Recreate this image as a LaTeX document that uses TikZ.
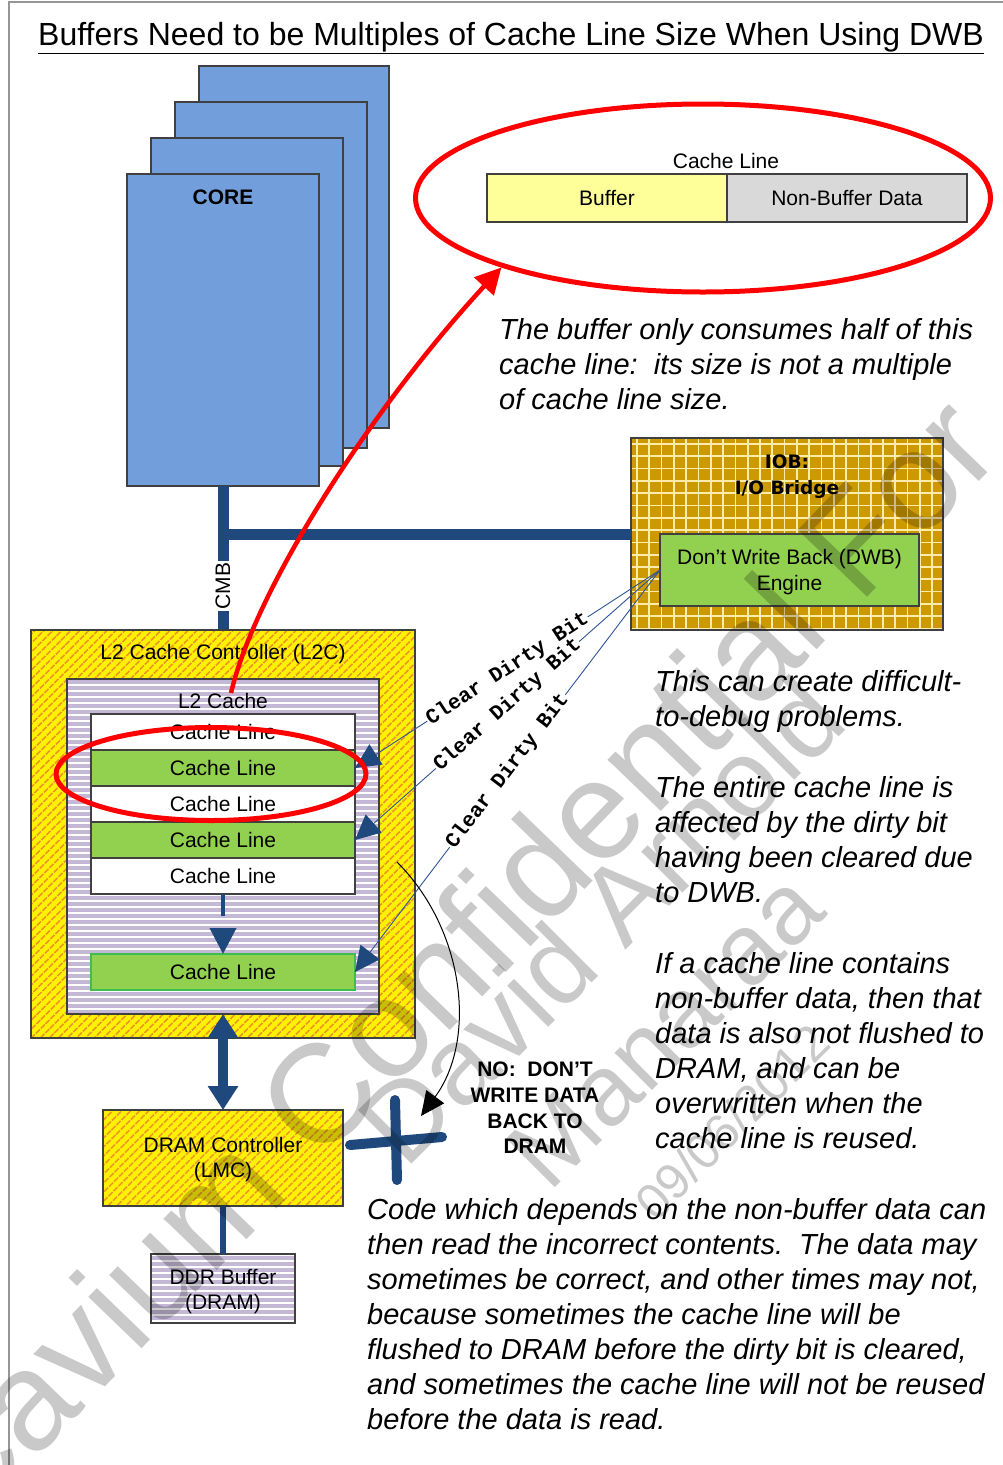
\documentclass[tikz,border=0pt]{standalone}
\usepackage{fontspec}
\setmainfont{Liberation Sans}
\newfontfamily\monob{Liberation Mono}
\newfontfamily\iobf{DejaVu Sans}
\usetikzlibrary{arrows.meta,patterns.meta,shapes.geometric}
\definecolor{coreblue}{RGB}{114,159,219}
\definecolor{busblue}{RGB}{31,73,125}
\definecolor{thinblue}{RGB}{47,85,151}
\definecolor{hatchor}{RGB}{236,150,40}
\definecolor{lav}{RGB}{196,184,214}
\definecolor{clgreen}{RGB}{146,208,80}
\definecolor{iobgold}{RGB}{204,153,0}
\definecolor{gridc}{RGB}{255,236,170}
\definecolor{bufyel}{RGB}{255,255,153}
\definecolor{nbgray}{RGB}{217,217,217}
\definecolor{edge}{RGB}{64,64,64}
\definecolor{framegray}{RGB}{150,150,150}
\tikzset{
  box/.style={draw=edge, line width=1.2pt, inner sep=0pt, outer sep=0pt, font=\fontsize{21}{25}\selectfont},
  corebox/.style={box, fill=coreblue},
  hatch/.style={box, preaction={fill=yellow}, pattern={Lines[angle=45,distance=6.4pt,line width=2pt]}, pattern color=hatchor},
  stripe/.style={box, preaction={fill=lav}, pattern={Lines[angle=0,distance=6pt,line width=2.4pt]}, pattern color=white},
  clwhite/.style={box, fill=white, minimum width=264pt, minimum height=36pt},
  clgr/.style={box, fill=clgreen, minimum width=264pt, minimum height=36pt},
  bus/.style={draw=busblue, line width=11pt},
  txt/.style={font=\fontsize{21}{25}\selectfont, inner sep=0pt, align=center},
  body/.style={font=\fontsize{29}{35}\selectfont\itshape, inner sep=0pt, align=left, anchor=north west},
  cdb/.style={font=\monob\bfseries\fontsize{21}{24}\selectfont, fill=white, inner sep=1pt, sloped, midway},
  cdbline/.style={draw=thinblue, line width=0.9pt, -{Triangle[length=25pt,width=24pt,color=busblue]}},
  redpen/.style={draw=red, line width=5pt},
  wm/.style={text=black, text opacity=0.21, rotate=45, inner sep=0pt},
}
\begin{document}
\begin{tikzpicture}[x=1pt,y=-1pt]
\useasboundingbox (0,0) rectangle (1003,1465);
\fill[white] (0,0) rectangle (1003,1465);
% frame
\draw[framegray, line width=1.5pt] (9,1465) -- (9,2) -- (1003,2);
% title
\node[font=\fontsize{32}{36}\selectfont, inner sep=0pt] (title) at (511,38) {\underline{Buffers Need to be Multiples of Cache Line Size When Using DWB}};

% cores
\node[corebox, minimum width=190pt, minimum height=362pt] (core4) at (294,247) {};
\node[corebox, minimum width=192pt, minimum height=346pt] (core3) at (271,275) {};
\node[corebox, minimum width=192pt, minimum height=328pt] (core2) at (247,302) {};
\node[corebox, minimum width=192pt, minimum height=312pt] (core1) at (223,330) {};
\node[txt, font=\fontsize{21}{25}\selectfont\bfseries] (coretxt) at (223,197) {CORE};

% IOB
\node[box, fill=iobgold, minimum width=312pt, minimum height=192pt] (iob) at (787,534) {};
\begin{scope}
\clip (iob.north west) rectangle (iob.south east);
\foreach \i in {0,...,26} \draw[gridc, line width=1.7pt] (637+12.3*\i,430) -- (637+12.3*\i,640);
\foreach \j in {0,...,16} \draw[gridc, line width=1.7pt] (620,444+12.3*\j) -- (950,444+12.3*\j);
\end{scope}
\draw[edge, line width=1.2pt] (iob.north west) rectangle (iob.south east);
\node[font=\iobf\bfseries\fontsize{18.5}{26}\selectfont, inner sep=0pt, align=center] (iobtxt) at (787,477) {IOB:\\I/O Bridge};
\node[box, fill=clgreen, minimum width=259pt, minimum height=72pt] (dwb) at (789.5,570) {};
\node[txt, font=\fontsize{21}{26}\selectfont] (dwbtxt) at (789.5,572.5) {Don’t Write Back (DWB)\\Engine};

% buses
\draw[bus] (core1.south) -- (223,630);
\draw[bus] (core1.south |- iob.west) -- (iob.west);

% L2C
\node[hatch, minimum width=384pt, minimum height=408pt] (l2c) at (223,834) {};
\node[txt] (l2ctxt) at (223,654) {L2 Cache Controller (L2C)};
\node[stripe, minimum width=312pt, minimum height=335pt] (l2) at (223,846.5) {};
\node[txt] (l2txt) at (223,701) {L2 Cache};
\node[clwhite] (cl1) at (223,732) {Cache Line};
\node[clgr] (cl2) at (223,768) {Cache Line};
\node[clwhite] (cl3) at (223,804) {Cache Line};
\node[clgr] (cl4) at (223,840) {Cache Line};
\node[clwhite] (cl5) at (223,876) {Cache Line};
\node[clgr, draw={rgb,255:red,60;green,190;blue,80}] (cl6) at (223,972) {Cache Line};
\draw[busblue, line width=4pt, dash pattern=on 22pt off 14pt, -{Triangle[length=26pt,width=26pt]}] (cl5.south) -- (cl6.north);
\node[fill=white, rotate=90, txt, inner sep=1.5pt] (cmb) at (223,586) {CMB};

% DRAM side
\node[hatch, minimum width=240pt, minimum height=96pt] (lmc) at (223,1158) {};
\node[txt] (lmctxt) at (223,1160) {DRAM Controller\\(LMC)};
\node[stripe, minimum width=144pt, minimum height=69pt] (ddr) at (223,1288.5) {};
\node[txt] (ddrtxt) at (223,1292) {DDR Buffer\\(DRAM)};
\draw[busblue, line width=6pt] (lmc.south) -- (ddr.north);
\draw[busblue, line width=10pt, {Triangle[length=24pt,width=29pt]}-{Triangle[length=24pt,width=29pt]}] (l2.south) -- (lmc.north);

% clear dirty bit connectors
\draw[cdbline] (dwb.west) -- node[cdb] {Clear Dirty Bit} (cl2.east);
\draw[cdbline] (dwb.west) -- node[cdb] {Clear Dirty Bit} (cl4.east);
\draw[cdbline] (dwb.west) -- node[cdb] {Clear Dirty Bit} (cl6.east);

% NO write back
\coordinate (arcstart) at (397,862);
\coordinate (xtip) at (421,1116);
\draw[black, line width=1pt, -{Triangle[length=24pt,width=22pt]}] (arcstart) .. controls (465,930) and (477,1040) .. (xtip);
\coordinate (xh1) at (350,1145);
\coordinate (xh2) at (442,1137);
\coordinate (xv1) at (395,1100);
\coordinate (xv2) at (397,1180);
\draw[busblue, line width=10pt, line cap=round] (xh1) -- (xh2);
\draw[busblue, line width=10pt, line cap=round] (xv1) -- (xv2);
\node[txt, font=\fontsize{21}{25.6}\selectfont\bfseries] (notxt) at (535,1108) {NO:\ \ DON’T\\WRITE DATA\\BACK TO\\DRAM};

% top cache line
\node[txt] (cltop) at (726,161) {Cache Line};
\node[box, fill=bufyel, minimum width=240pt, minimum height=48pt] (buf) at (607,198) {Buffer};
\node[box, fill=nbgray, minimum width=240pt, minimum height=48pt] (nbuf) at (847,198) {Non-Buffer Data};

% body texts
\node[body] (b1) at (499,318) {The buffer only consumes half of this\\cache line:\ \ its size is not a multiple\\of cache line size.};
\node[body] (b2) at (655,670) {This can create difficult-\\to-debug problems.};
\node[body] (b3) at (655,776) {The entire cache line is\\affected by the dirty bit\\having been cleared due\\to DWB.};
\node[body] (b4) at (655,952) {If a cache line contains\\non-buffer data, then that\\data is also not flushed to\\DRAM, and can be\\overwritten when the\\cache line is reused.};
\node[body] (b5) at (367,1198) {Code which depends on the non-buffer data can\\then read the incorrect contents.\ \ The data may\\sometimes be correct, and other times may not,\\because sometimes the cache line will be\\flushed to DRAM before the dirty bit is cleared,\\and sometimes the cache line will not be reused\\before the data is read.};

% red highlights
\node[ellipse, redpen, minimum width=575pt, minimum height=188pt, inner sep=0pt] (topell) at (703,198) {};
\node[ellipse, redpen, minimum width=310pt, minimum height=93pt, inner sep=0pt] (l2ell) at (211,774) {};
\draw[red, line width=4.5pt, -{Triangle[length=26pt,width=26pt]}] ([shift={(8,-8)}]l2txt.center) .. controls (255,590) and (370,410) .. (topell.199.5);

% watermark
\node[wm, rotate=1, font=\fontsize{140}{150}\selectfont] (wm1) at (448,960) {Cavium Confidential For};
\node[wm, font=\fontsize{110}{120}\selectfont] (wm2) at (600,920) {David Arnold};
\node[wm, font=\fontsize{100}{110}\selectfont] (wm3) at (665,1030) {Manaraa};
\node[wm, font=\fontsize{50}{55}\selectfont] (wm4) at (732,1122) {09/06/2012};
\end{tikzpicture}
\end{document}
